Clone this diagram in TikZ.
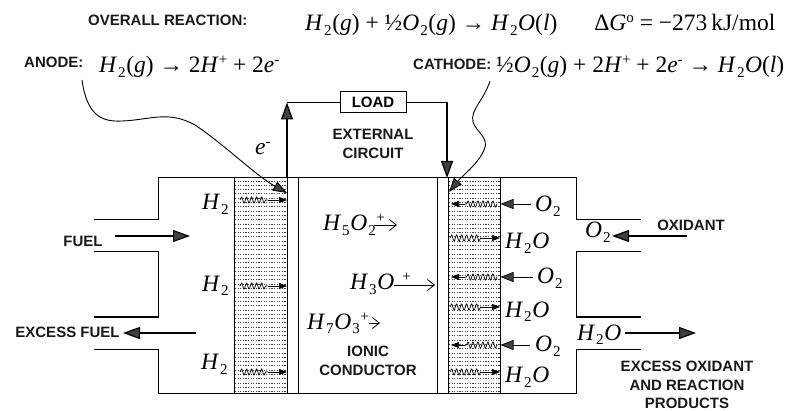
\documentclass[tikz,border=0pt]{standalone}
\usepackage{fontspec}
\setmainfont{Liberation Serif}
\newfontfamily\labelfont{Liberation Sans}
\usetikzlibrary{arrows.meta,decorations.pathmorphing}
\newcommand\lo[1]{\kern1pt\raisebox{-5pt}{\fontsize{15}{15}\selectfont #1}\kern.6pt}
\newcommand\hi[1]{\raisebox{8pt}{\fontsize{15}{15}\selectfont #1}}
\newcommand\iv[1]{\textit{#1}}
\definecolor{headgray}{gray}{0.25}
\tikzset{
  wall/.style={line width=1pt,black},
  lab/.style={font=\labelfont\bfseries\fontsize{15}{18.5}\selectfont,align=center,inner sep=0pt,text=black!90},
  chem/.style={font=\fontsize{23.5}{24}\selectfont,inner sep=0pt,anchor=base west},
  big/.style={-{Triangle[length=17pt,width=12pt,fill=headgray]},line width=1.2pt},
  med/.style={-{Triangle[length=13pt,width=10pt,fill=headgray]},line width=.7pt},
  tiny/.style={-{Triangle[length=8pt,width=6pt,fill=black]},line width=.6pt},
  wave/.style={decorate,decoration={snake,amplitude=3pt,segment length=5pt},line width=.7pt},
  thin head/.style={-{Straight Barb[length=7pt,width=11pt]},line width=.8pt},
}
\begin{document}
\begin{tikzpicture}[x=1pt,y=-1pt]
\useasboundingbox (0,0) rectangle (789,411);

% dotted catalyst layers
\foreach \yy in {181,185.3,...,392}{
  \draw[line width=.9pt,black!75,dash pattern=on 1.1pt off 1.5pt] (235,\yy) -- (287,\yy);
  \draw[line width=.9pt,black!75,dash pattern=on 1.1pt off 1.5pt] (449,\yy) -- (500,\yy);
}

% cell outline
\draw[wall] (94,220) -- (158,220) -- (158,178) -- (576,178) -- (576,220) -- (641,220);
\draw[wall] (94,252) -- (158,252) -- (158,317) -- (94,317);
\draw[wall] (94,349) -- (158,349) -- (158,393) -- (576,393) -- (576,349) -- (641,349);
\draw[wall] (641,252) -- (576,252) -- (576,317) -- (641,317);
\foreach \xx in {234,287,298,437,448,500}{\draw[wall] (\xx,178) -- (\xx,393);}

% external circuit
\node[draw,line width=1pt,minimum width=66pt,minimum height=21pt,inner sep=0pt,font=\labelfont\bfseries\fontsize{15}{15}\selectfont] (load) at (373,102.5) {LOAD};
\coordinate (aup) at (287,178);
\coordinate (acorner) at (287,102.5);
\coordinate (ccorner) at (447,102.5);
\coordinate (cdown) at (447,178);
\draw[big] (aup) -- (acorner);
\draw[wall] (acorner) -- (load.west);
\draw[big] (load.east) -- (ccorner) -- (cdown);

% top labels
\node[lab,anchor=base west] (overall) at (88,26) {OVERALL REACTION:};
\node[chem] (overalleq) at (305,31) {\iv{H}\lo{2}(\iv{g}) + ½\iv{O}\lo{2}(\iv{g}) → \iv{H}\lo{2}\iv{O}(\iv{l})\hspace{37pt}Δ\iv{G}\hi{o} = −273\,kJ/mol};
\node[lab,anchor=base west] (anode) at (24,68) {ANODE:};
\node[chem] (anodeeq) at (99,73) {\iv{H}\lo{2}(\iv{g}) → 2\iv{H}\hi{+} + 2\iv{e}\hi{-}};
\node[lab,anchor=base west] (cathode) at (413,70) {CATHODE:};
\node[chem] (cathodeeq) at (496,73) {½\iv{O}\lo{2}(\iv{g}) + 2\iv{H}\hi{+} + 2\iv{e}\hi{-} → \iv{H}\lo{2}\iv{O}(\iv{l})};

\node[lab] (external) at (373,144) {EXTERNAL\\CIRCUIT};
\node[chem] (eminus) at (255,155) {\iv{e}\hi{-}};
\node[lab] (ionic) at (368,361) {IONIC\\CONDUCTOR};

% callout curves
\coordinate (anodeend) at (287,193);
\coordinate (anodestart) at (82,80);
\draw[line width=.9pt,-{Triangle[length=14pt,width=10pt,fill=headgray]}] (anodestart) .. controls (87,116) and (102,122) .. (122,121) .. controls (150,120) and (168,110) .. (195,125) .. controls (225,145) and (255,175) .. (anodeend);
\coordinate (cathodestart) at (490,81);
\coordinate (cathodeend) at (449,192);
\draw[line width=.9pt,-{Triangle[length=14pt,width=10pt,fill=headgray]}] (cathodestart) .. controls (484,100) and (470,110) .. (473,122) .. controls (476,132) and (490,138) .. (484,150) .. controls (478,164) and (462,176) .. (cathodeend);

% anode side
\node[chem] (ah1) at (202,210) {\iv{H}\lo{2}};
\node[chem] (ah2) at (202,291) {\iv{H}\lo{2}};
\node[chem] (ah3) at (201,369) {\iv{H}\lo{2}};
\foreach \yy/\n in {200/a,286/b,372/c}{
  \coordinate (w\n1) at (240,\yy);
  \coordinate (w\n2) at (268,\yy);
  \coordinate (w\n3) at (287,\yy);
  \draw[wave] (w\n1) -- (w\n2);
  \draw[tiny] (w\n2) -- (w\n3);
}

% cathode side: oxygen in
\node[chem] (co1) at (535,212) {\iv{O}\lo{2}};
\node[chem] (co2) at (537,284) {\iv{O}\lo{2}};
\node[chem] (co3) at (535,351) {\iv{O}\lo{2}};
\foreach \yy/\xa/\n in {204/531/d,277/533/e,345/530/f}{
  \coordinate (o\n1) at (\xa,\yy);
  \coordinate (o\n2) at (500.5,\yy);
  \coordinate (o\n3) at (497,\yy);
  \coordinate (o\n4) at (465,\yy);
  \coordinate (o\n5) at (451,\yy);
  \draw[med] (o\n1) -- (o\n2);
  \draw[wave] (o\n3) -- (o\n4);
  \draw[tiny] (o\n4) -- (o\n5);
}
% cathode side: water out
\node[chem] (cw1) at (505,249) {\iv{H}\lo{2}\iv{O}};
\node[chem] (cw2) at (505,317) {\iv{H}\lo{2}\iv{O}};
\node[chem] (cw3) at (505,382) {\iv{H}\lo{2}\iv{O}};
\foreach \yy/\n in {238/g,307/h,372/i}{
  \coordinate (w\n1) at (450,\yy);
  \coordinate (w\n2) at (481,\yy);
  \coordinate (w\n3) at (500,\yy);
  \draw[wave] (w\n1) -- (w\n2);
  \draw[tiny] (w\n2) -- (w\n3);
}

% ions
\node[chem] (h5) at (323,231) {\iv{H}\lo{5}\iv{O}\lo{2}\hi{+}};
\coordinate (h5a) at (374,225); \coordinate (h5b) at (397,225);
\draw[thin head] (h5a) -- (h5b);
\node[chem] (h3) at (350,290) {\iv{H}\lo{3}\iv{O}\hspace{8pt}\hi{+}};
\coordinate (h3a) at (394,285); \coordinate (h3b) at (435,285);
\draw[thin head] (h3a) -- (h3b);
\node[chem] (h7) at (307,329) {\iv{H}\lo{7}\iv{O}\lo{3}\hi{+}};
\coordinate (h7a) at (369,323); \coordinate (h7b) at (380,323);
\draw[thin head] (h7a) -- (h7b);

% flows
\node[lab] (fuel) at (83,241) {FUEL};
\coordinate (fa) at (115,236); \coordinate (fb) at (190,236);
\draw[big] (fa) -- (fb);
\node[lab] (exfuel) at (67.5,332.5) {EXCESS FUEL};
\coordinate (xa) at (196,333); \coordinate (xb) at (123,333);
\draw[big] (xa) -- (xb);
\node[lab] (oxidant) at (691,225) {OXIDANT};
\coordinate (oa) at (687,236); \coordinate (ob) at (612,236);
\draw[big] (oa) -- (ob);
\node[chem] (o2in) at (585,238) {\iv{O}\lo{2}};
\node[chem] (h2oout) at (577,340) {\iv{H}\lo{2}\iv{O}};
\coordinate (wa) at (625,333); \coordinate (wb) at (696,333);
\draw[big] (wa) -- (wb);
\node[lab] (exox) at (687,385) {EXCESS OXIDANT\\AND REACTION\\PRODUCTS};
\end{tikzpicture}
\end{document}
